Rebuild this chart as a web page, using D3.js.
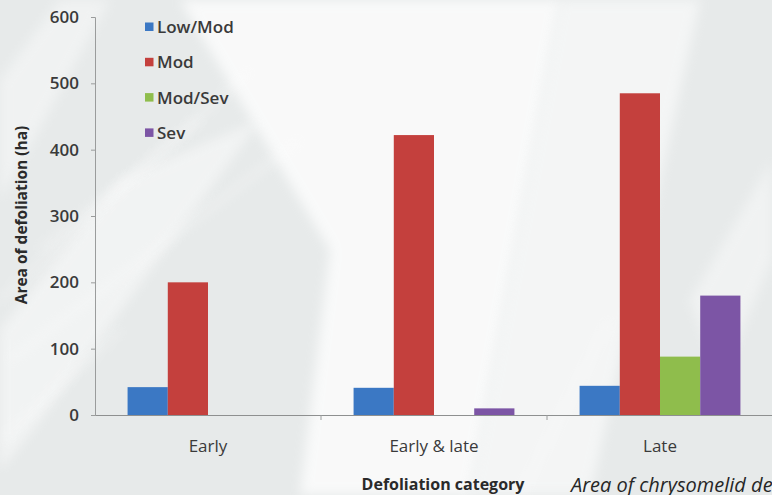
<!DOCTYPE html>
<html>
<head>
<meta charset="utf-8">
<script src="https://cdn.jsdelivr.net/npm/d3@7"></script>
<style>
  html, body { margin: 0; padding: 0; background: #eceeee; }
  svg { display: block; }
</style>
</head>
<body>
<svg id="chart" width="772" height="495"></svg>
<script>
// Defoliation area (ha) by timing category and severity class
const categories = ["Early", "Early & late", "Late"];
const seriesNames = ["Low/Mod", "Mod", "Mod/Sev", "Sev"];
const lowMod = [42, 41, 44];
const mod = [200, 422, 485];
const modSev = [0, 0, 88];
const sev = [0, 10, 180];
const yTicks = [0, 100, 200, 300, 400, 500, 600];
const colors = ["#3b78c4", "#c4403d", "#8fbd4c", "#7c55a5"];

const seriesValues = [lowMod, mod, modSev, sev];

const W = 772, H = 495;
const svg = d3.select("#chart");

// soft pale backdrop with diagonal light streaks
const defs = svg.append("defs");
defs.append("filter").attr("id", "soft")
  .append("feGaussianBlur").attr("stdDeviation", 6);

const bg = svg.append("g");
bg.append("rect").attr("width", W).attr("height", H).attr("fill", "#e7eaea");
const streaks = [
  [[180, 0], [560, 0], [470, 495], [300, 495], [330, 250]],
  [[560, 0], [700, 0], [590, 495], [470, 495]],
  [[0, 330], [120, 180], [260, 120], [40, 420], [0, 470]],
  [[0, 80], [60, 0], [110, 0], [0, 200]],
  [[690, 300], [772, 160], [772, 260], [720, 380]]
];
bg.selectAll("polygon.streak").data(streaks).join("polygon")
  .attr("class", "streak")
  .attr("points", d => d.map(p => p.join(",")).join(" "))
  .attr("fill", "#ffffff")
  .attr("opacity", (d, i) => [0.75, 0.55, 0.45, 0.4, 0.4][i])
  .attr("filter", "url(#soft)");
const lines = [
  [[0, 300], [250, 70]], [[10, 360], [300, 140]], [[40, 250], [200, 120]],
  [[0, 440], [120, 330]], [[520, 495], [610, 320]]
];
bg.selectAll("line.vein").data(lines).join("line")
  .attr("class", "vein")
  .attr("x1", d => d[0][0]).attr("y1", d => d[0][1])
  .attr("x2", d => d[1][0]).attr("y2", d => d[1][1])
  .attr("stroke", "#ffffff").attr("stroke-width", 3).attr("opacity", 0.6)
  .attr("filter", "url(#soft)");

const margin = { left: 95, top: 17 };
const plotBottom = 415;

const x0 = d3.scaleBand().domain(categories).range([margin.left, 773]).paddingInner(0).paddingOuter(0);
const x1 = d3.scaleBand().domain(seriesNames).range([0, x0.bandwidth()]).paddingInner(0).paddingOuter(0.81);
const y = d3.scaleLinear().domain([0, 600]).range([plotBottom, margin.top]);

const font = "'Open Sans', 'DejaVu Sans', sans-serif";

// bars
const groups = svg.append("g").selectAll("g").data(categories).join("g")
  .attr("transform", d => `translate(${x0(d)},0)`);
groups.selectAll("rect").data((c, ci) => seriesNames.map((s, si) => ({ s, si, v: seriesValues[si][ci] })))
  .join("rect")
  .attr("x", d => x1(d.s))
  .attr("width", x1.bandwidth())
  .attr("y", d => y(d.v))
  .attr("height", d => plotBottom - y(d.v))
  .attr("fill", d => colors[d.si]);

// y axis
const yAxis = svg.append("g").attr("transform", `translate(${margin.left},0)`)
  .call(d3.axisLeft(y).tickValues(yTicks).tickSize(4).tickPadding(12).tickFormat(d3.format("d")));
yAxis.select(".domain").attr("stroke", "#9a9c9c");
yAxis.selectAll(".tick line").attr("stroke", "#9a9c9c");
yAxis.selectAll("text").attr("font-family", font).attr("font-size", 17).attr("font-weight", 600).attr("fill", "#3a3a3a");

// x axis
const xAxis = svg.append("g").attr("transform", `translate(0,${plotBottom})`)
  .call(d3.axisBottom(x0).tickSize(0).tickPadding(25));
xAxis.select(".domain").attr("stroke", "#8e9090");
xAxis.selectAll("text").attr("font-family", font).attr("font-size", 17).attr("fill", "#3a3a3a");
// boundary ticks between categories
svg.append("g").selectAll("line").data(categories.slice(1)).join("line")
  .attr("x1", d => x0(d)).attr("x2", d => x0(d))
  .attr("y1", plotBottom).attr("y2", plotBottom + 5)
  .attr("stroke", "#9a9c9c");

// axis titles
svg.append("text")
  .attr("transform", `translate(27,${215}) rotate(-90)`)
  .attr("text-anchor", "middle")
  .attr("font-family", font).attr("font-size", 15.5).attr("font-weight", 700).attr("fill", "#2a2a2a")
  .text("Area of defoliation (ha)");
svg.append("text")
  .attr("x", 443).attr("y", 490)
  .attr("text-anchor", "middle")
  .attr("font-family", font).attr("font-size", 16).attr("font-weight", 700).attr("fill", "#2a2a2a")
  .text("Defoliation category");

// caption running off the right edge
svg.append("text")
  .attr("x", 571).attr("y", 492)
  .attr("font-family", font).attr("font-size", 20).attr("font-style", "italic").attr("fill", "#262626")
  .text("Area of chrysomelid defoliation");

// legend
const legend = svg.append("g").selectAll("g").data(seriesNames).join("g")
  .attr("transform", (d, i) => `translate(145,${27 + i * 35.3})`);
legend.append("rect").attr("x", 0).attr("y", -4.5).attr("width", 8.5).attr("height", 8.5)
  .attr("fill", (d, i) => colors[i]);
legend.append("text").attr("x", 12).attr("y", 0).attr("dy", "0.35em")
  .attr("font-family", font).attr("font-size", 17).attr("font-weight", 600).attr("fill", "#3a3a3a")
  .text(d => d);
</script>
</body>
</html>
